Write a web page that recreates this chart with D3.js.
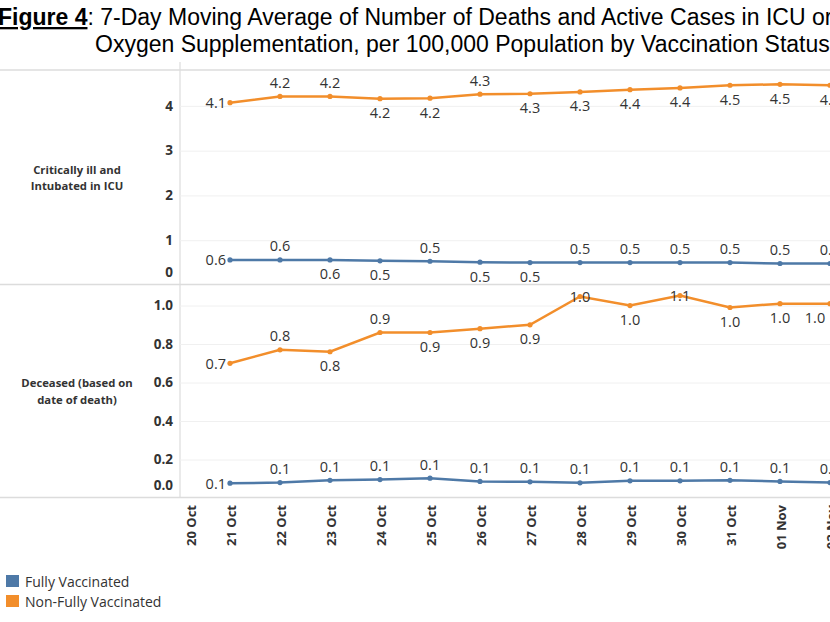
<!DOCTYPE html>
<html>
<head>
<meta charset="utf-8">
<script src="https://cdn.jsdelivr.net/npm/d3@7"></script>
<style>
  body { margin: 0; background: #fff; }
  svg { display: block; }
</style>
</head>
<body>
<div class="chart"></div>
<script>
// data
var dates = ["2021-10-21","2021-10-22","2021-10-23","2021-10-24","2021-10-25","2021-10-26","2021-10-27",
             "2021-10-28","2021-10-29","2021-10-30","2021-10-31","2021-11-01","2021-11-02"];
var axisDays = ["2021-10-20","2021-10-21","2021-10-22","2021-10-23","2021-10-24","2021-10-25","2021-10-26",
                "2021-10-27","2021-10-28","2021-10-29","2021-10-30","2021-10-31","2021-11-01","2021-11-02"];
var icuFully    = [0.56, 0.56, 0.56, 0.54, 0.53, 0.51, 0.50, 0.50, 0.50, 0.50, 0.50, 0.48, 0.48];
var icuNonFully = [4.07, 4.21, 4.21, 4.16, 4.17, 4.26, 4.27, 4.31, 4.36, 4.40, 4.46, 4.48, 4.46];
var deadFully    = [0.077, 0.080, 0.092, 0.096, 0.103, 0.086, 0.084, 0.079, 0.089, 0.089, 0.092, 0.086, 0.080];
var deadNonFully = [0.70, 0.77, 0.76, 0.86, 0.86, 0.88, 0.90, 1.047, 1.00, 1.052, 0.99, 1.01, 1.01];
var icuTicks  = [0, 1, 2, 3, 4];
var deadTicks = [0, 0.2, 0.4, 0.6, 0.8, 1.0];
var seriesNames = ["Fully Vaccinated", "Non-Fully Vaccinated"];

// label placement: l = left, a = above, b = below, c = on point, k = below-left
var icuFullyPos     = ["l","a","b","b","a","b","b","a","a","a","a","a","a"];
var icuNonFullyPos  = ["l","a","a","b","b","a","b","b","b","b","b","b","b"];
var deadFullyPos    = ["l","a","a","a","a","a","a","a","a","a","a","a","a"];
var deadNonFullyPos = ["l","a","b","a","b","b","b","c","b","c","b","b","k"];

var blue = "#4e79a7", orange = "#f28e2b";
var width = 830, height = 622;
var font = "'Open Sans', 'Noto Sans', sans-serif";

var svg = d3.select(".chart")
    .append("svg")
    .attr("width", width)
    .attr("height", height);

var parse = d3.utcParse("%Y-%m-%d");

// title
var title = svg.append("g").style("font-family", "'Liberation Sans Narrow', 'Arial Narrow', sans-serif")
    .style("font-size", "23px").attr("fill", "#000");
var t1 = title.append("text").attr("x", -2).attr("y", 25);
t1.append("tspan").text("Figure 4").style("font-weight", "bold").style("text-decoration", "underline");
t1.append("tspan").text(": 7-Day Moving Average of Number of Deaths and Active Cases in ICU or");
title.append("text").attr("x", 95).attr("y", 52)
    .text("Oxygen Supplementation, per 100,000 Population by Vaccination Status");

// scales
var x = d3.scaleUtc()
    .domain([parse("2021-10-20"), parse("2021-11-02")])
    .range([180, 830]);
var yIcu = d3.scaleLinear().domain([0, 4.8]).range([285, 70]);
var yDead = d3.scaleLinear().domain([0, 1.112]).range([498, 284]);

// panel frame
[70, 284.5, 497.5].forEach(function(yy) {
  svg.append("line").attr("x1", 0).attr("x2", width).attr("y1", yy).attr("y2", yy)
      .attr("stroke", "#dcdcdc").attr("stroke-width", 1.5);
});
svg.append("line").attr("x1", 180).attr("x2", 180).attr("y1", 62).attr("y2", 498)
    .attr("stroke", "#dcdcdc").attr("stroke-width", 1.2);

function panel(y, ticks, fmt, fully, nonFully, fullyPos, nonFullyPos, rowLabel, rowY) {
  // gridlines
  var grid = svg.append("g")
      .attr("transform", "translate(180,0)")
      .call(d3.axisLeft(y).tickValues(ticks.filter(function(d) { return d > 0; }))
            .tickSize(-650).tickFormat(""));
  grid.select(".domain").remove();
  grid.selectAll("line").attr("stroke", "#f0f0f0").attr("stroke-width", 1);

  // tick labels
  var ax = svg.append("g")
      .attr("transform", "translate(173,0)")
      .call(d3.axisLeft(y).tickValues(ticks).tickSize(0).tickPadding(0).tickFormat(fmt));
  ax.select(".domain").remove();
  ax.selectAll("text")
      .style("font-family", font).style("font-size", "13.5px").style("font-weight", "bold")
      .attr("fill", "#333")
      .attr("dy", function(d) { return d === 0 ? "-0.62em" : "0.32em"; });

  // row label
  var rl = svg.append("text").attr("x", 77).attr("text-anchor", "middle")
      .style("font-family", font).style("font-size", "11.3px").style("font-weight", "bold")
      .attr("fill", "#333");
  rowLabel.forEach(function(s, i) {
    rl.append("tspan").attr("x", 77).attr("y", rowY[i]).attr("dominant-baseline", "central").text(s);
  });

  var line = d3.line()
      .x(function(d, i) { return x(parse(dates[i])); })
      .y(function(d) { return y(d); });

  [[fully, blue, fullyPos], [nonFully, orange, nonFullyPos]].forEach(function(s) {
    svg.append("path")
        .datum(s[0])
        .attr("fill", "none")
        .attr("stroke", s[1])
        .attr("stroke-width", 2.5)
        .attr("d", line);
    svg.append("g").selectAll("circle")
        .data(s[0]).enter().append("circle")
        .attr("cx", function(d, i) { return x(parse(dates[i])); })
        .attr("cy", function(d) { return y(d); })
        .attr("r", 2.6)
        .attr("fill", s[1]);
    svg.append("g").selectAll("text")
        .data(s[0]).enter().append("text")
        .attr("x", function(d, i) {
          var p = s[2][i], px = x(parse(dates[i]));
          return p === "l" ? px - 4 : (p === "k" ? px - 15 : px);
        })
        .attr("y", function(d, i) {
          var p = s[2][i], py = y(d);
          if (p === "a") return py - 14;
          if (p === "b" || p === "k") return py + 14;
          return py;
        })
        .attr("text-anchor", function(d, i) { return s[2][i] === "l" ? "end" : "middle"; })
        .attr("dominant-baseline", "central")
        .style("font-family", font).style("font-size", "14.5px")
        .attr("fill", "#333")
        .text(function(d) { return d3.format(".1f")(d); });
  });
}

panel(yIcu, icuTicks, d3.format("d"), icuFully, icuNonFully, icuFullyPos, icuNonFullyPos,
      ["Critically ill and", "Intubated in ICU"], [169, 185]);
panel(yDead, deadTicks, d3.format(".1f"), deadFully, deadNonFully, deadFullyPos, deadNonFullyPos,
      ["Deceased (based on", "date of death)"], [382, 399]);

// x axis labels
var xa = svg.append("g")
    .attr("transform", "translate(0,505)")
    .call(d3.axisBottom(x).tickValues(axisDays.map(parse)).tickSize(0).tickFormat(d3.utcFormat("%d %b")));
xa.select(".domain").remove();
xa.selectAll("text")
    .style("font-family", font).style("font-size", "13px").style("font-weight", "bold")
    .attr("fill", "#333")
    .attr("text-anchor", "end")
    .attr("dominant-baseline", "central")
    .attr("dy", null)
    .attr("y", 0)
    .attr("transform", function(d, i) { return (i === 0 ? "translate(10,0) " : "") + "rotate(-90)"; });

// legend
var legend = svg.append("g").style("font-family", font).style("font-size", "14px");
seriesNames.forEach(function(n, i) {
  legend.append("rect").attr("x", 6).attr("y", 575 + i * 20).attr("width", 13).attr("height", 12)
      .attr("fill", i === 0 ? blue : orange);
  legend.append("text").attr("x", 25).attr("y", 581.5 + i * 20).attr("dominant-baseline", "central")
      .attr("fill", "#333").text(n);
});
</script>
</body>
</html>
